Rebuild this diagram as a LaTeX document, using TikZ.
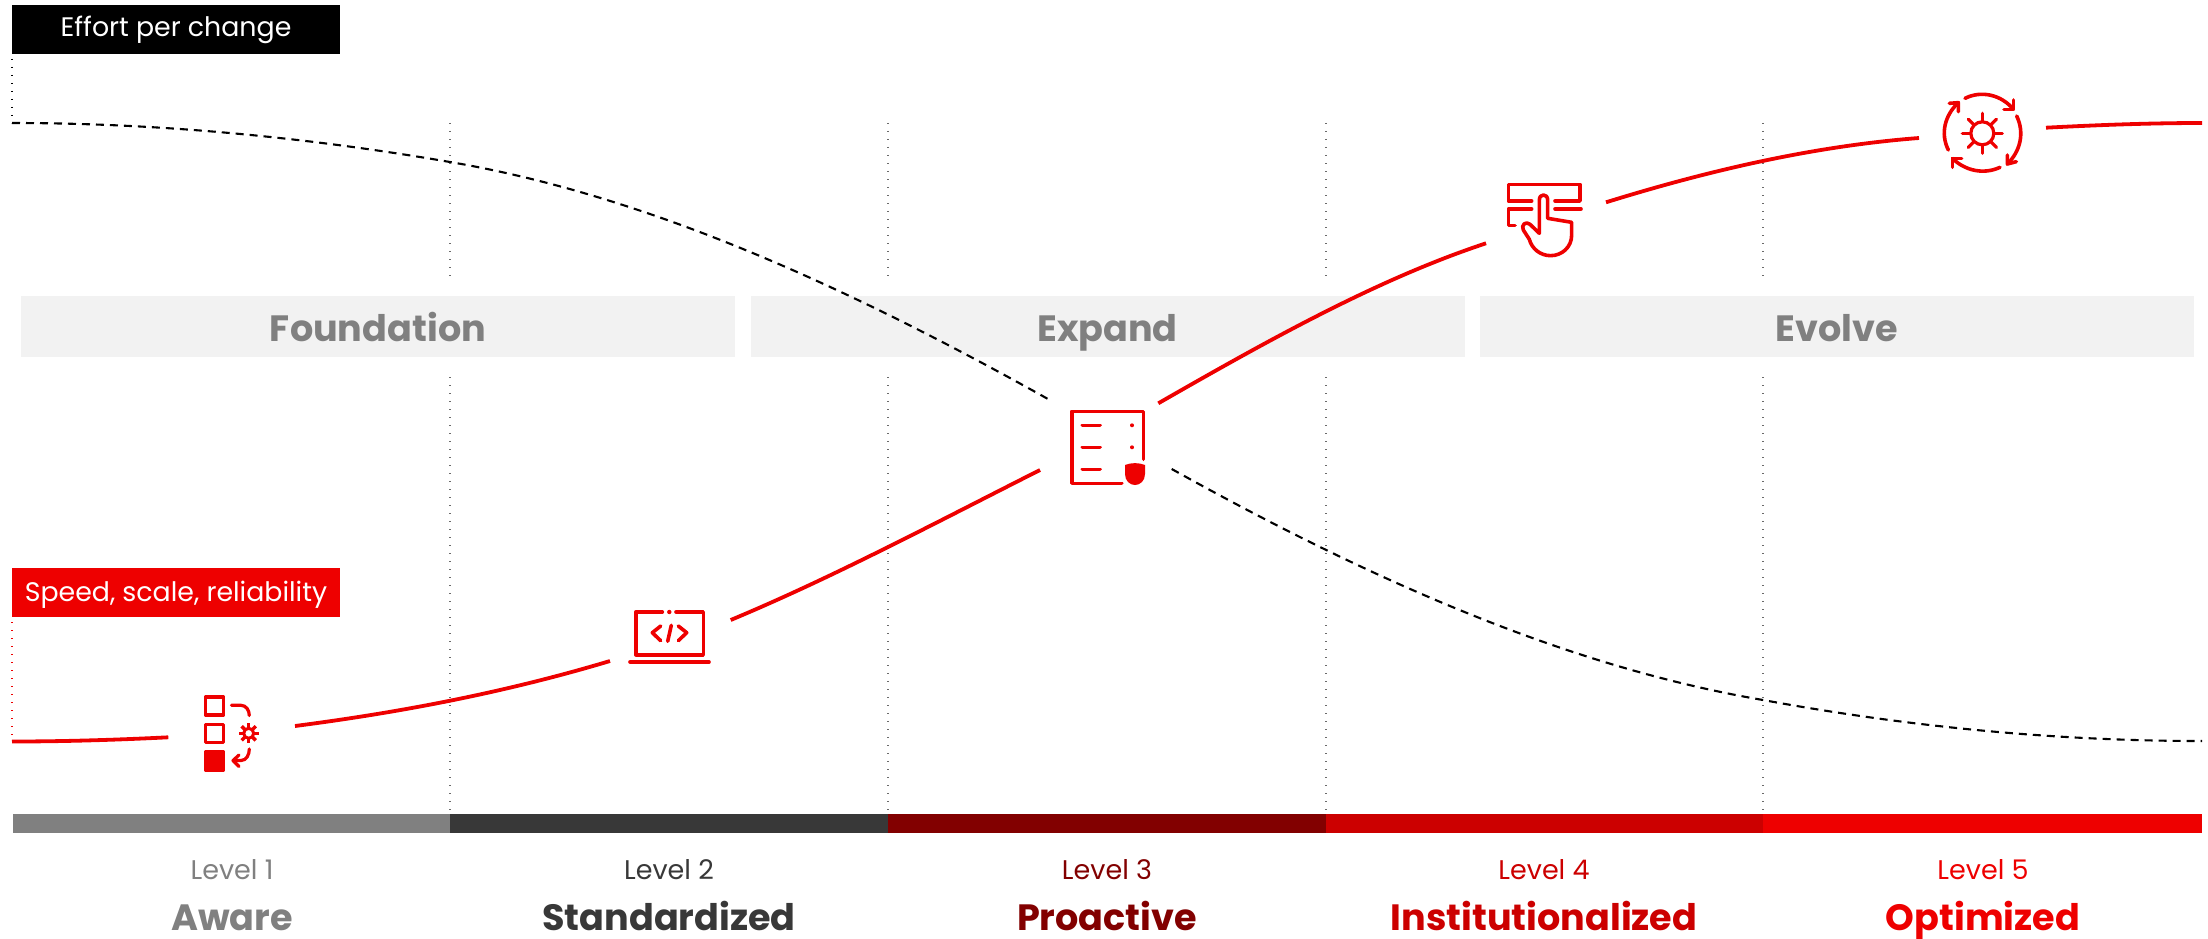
\documentclass[tikz,border=0pt]{standalone}
\usepackage{fontspec}
\setmainfont{Poppins}
\definecolor{rd}{HTML}{EE0000}
\definecolor{rdb}{HTML}{CC0000}
\definecolor{mar}{HTML}{820000}
\definecolor{drk}{HTML}{383838}
\definecolor{gry}{HTML}{808080}
\definecolor{band}{HTML}{F2F2F2}
\definecolor{vline}{HTML}{6A6A6A}
\tikzset{
 vdot/.style={vline,line width=1.3pt,dash pattern=on 1.3pt off 6.7pt},
 rcurve/.style={rd,line width=3.8pt},
 bcurve/.style={black,line width=2.1pt,dash pattern=on 8pt off 6pt},
 ico/.style={rd,line width=3.6pt,line cap=round,line join=round},
 icothin/.style={ico,line width=3.2pt},
 tag/.style={anchor=center,inner sep=0pt,minimum width=328pt,minimum height=49pt,text=white,text depth=0pt,font=\fontsize{26.8pt}{30pt}\selectfont},
 bandbox/.style={fill=band,draw=none,inner sep=0pt,minimum width=714pt,minimum height=61pt,text=gry,text height=29pt,text depth=0pt,font=\fontsize{36.6pt}{40pt}\selectfont\bfseries},
 lvl/.style={inner sep=0pt,anchor=base,font=\fontsize{27pt}{30pt}\selectfont},
 ttl/.style={inner sep=0pt,anchor=base,font=\fontsize{36.6pt}{40pt}\selectfont\bfseries},
 barseg/.style={draw=none,inner sep=0pt,minimum height=19pt},
}
\begin{document}
\begin{tikzpicture}[x=1pt,y=-1pt]
\useasboundingbox (0,0) rectangle (2208,939);
% vertical dotted guides
\foreach \x in {450,888,1326,1763}{
  \draw[vdot] (\x,123) -- (\x,276);
  \draw[vdot] (\x,377) -- (\x,814);
}
\draw[black,line width=1.3pt,dash pattern=on 1.3pt off 6.7pt] (12,59) -- (12,123);
\draw[rd,line width=1.3pt,dash pattern=on 1.3pt off 6.7pt] (12,622) -- (12,741);
% bands
\node[bandbox] (foundation) at (378,326.5) {Foundation};
\node[bandbox] (expand) at (1107.5,326.5) {Expand};
\node[bandbox] (evolve) at (1836.5,326.5) {Evolve};
% tags
\node[tag,fill=black,text height=15pt] (effort) at (176,29.5) {Effort per change};
\node[tag,fill=rd,text height=18pt] (speed) at (176,592.8) {Speed, scale, reliability};
% curves
\coordinate (r0) at (12,741.5);
\coordinate (r1) at (168.3,737.3);
\coordinate (r2) at (295,726);
\coordinate (r3) at (610,661);
\coordinate (r4) at (730.7,620);
\coordinate (r5) at (1040,470);
\coordinate (r6) at (1158.3,403.3);
\coordinate (r7) at (1486,243.3);
\coordinate (r8) at (1606,202.3);
\coordinate (r9) at (1919,138);
\coordinate (r10) at (2046,127.7);
\coordinate (r11) at (2202,123);
\draw[rcurve] (r0) .. controls (64,741.5) and (116,739.9) .. (r1);
\draw[rcurve] (r2) .. controls (400,712.4) and (505,692.5) .. (r3);
\draw[rcurve] (r4) .. controls (833.7,577) and (937,522) .. (r5);
\draw[rcurve] (r6) .. controls (1267,341) and (1377,279.3) .. (r7);
\draw[rcurve] (r8) .. controls (1710,170) and (1815,146) .. (r9);
\draw[rcurve] (r10) .. controls (2098,125) and (2150,123) .. (r11);
\coordinate (k0) at (12,123);
\coordinate (km1) at (450,162);
\coordinate (k1) at (1051,400.7);
\coordinate (k2) at (1171.7,469);
\coordinate (km2) at (1763,700);
\coordinate (k3) at (2202,741);
\draw[bcurve] (k0) .. controls (158,123) and (304,137) .. (km1) .. controls (650,196) and (851,288.7) .. (k1);
\draw[bcurve] (k2) .. controls (1369,579) and (1566,666.5) .. (km2) .. controls (1910,727) and (2056,741) .. (k3);
% level bar
\node[barseg,fill=gry,minimum width=437pt] (b1) at (231.5,823.5) {};
\node[barseg,fill=drk,minimum width=438pt] (b2) at (669,823.5) {};
\node[barseg,fill=mar,minimum width=438pt] (b3) at (1107,823.5) {};
\node[barseg,fill=rdb,minimum width=437pt] (b4) at (1544.5,823.5) {};
\node[barseg,fill=rd,minimum width=439pt] (b5) at (1982.5,823.5) {};
% level labels
\node[lvl,text=gry] (l1) at (232,879) {Level 1};
\node[lvl,text=drk] (l2) at (669,879) {Level 2};
\node[lvl,text=mar] (l3) at (1107,879) {Level 3};
\node[lvl,text=rdb] (l4) at (1544,879) {Level 4};
\node[lvl,text=rd] (l5) at (1983,879) {Level 5};
\node[ttl,text=gry] (t1) at (232,930) {Aware};
\node[ttl,text=drk] (t2) at (669,930) {Standardized};
\node[ttl,text=mar] (t3) at (1107,930) {Proactive};
\node[ttl,text=rdb] (t4) at (1544,930) {Institutionalized};
\node[ttl,text=rd] (t5) at (1983,930) {Optimized};
% icon 1
\draw[icothin] (205.5,697) rectangle (223.5,715);
\draw[icothin] (205.5,724.5) rectangle (223.5,742.5);
\draw[icothin,fill=rd] (205.5,752) rectangle (223.5,770);
\draw[icothin] (231.5,705.3) -- (241,705.3) to[out=0,in=90] (249.3,715.5);
\draw[icothin] (249.3,749) to[out=-90,in=0] (241,760.5) -- (233.5,760.5);
\draw[icothin] (239,755) -- (233,760.5) -- (239,766.5);
\draw[rd,line width=3pt] (248.7,733.3) circle (5pt);
\foreach \a in {0,45,...,315}{
  \draw[rd,line width=3.4pt] (248.7,733.3) ++(\a:5.5pt) -- ++(\a:4.5pt);
}
% icon 2
\draw[ico] (662.3,612) -- (635.7,612) -- (635.7,654.7) -- (703.3,654.7) -- (703.3,612) -- (676,612);
\fill[rd] (669.3,612) circle (2.2pt);
\draw[ico] (630,662) -- (709,662);
\draw[ico] (660.7,626) -- (652.3,632.7) -- (660.7,640.7);
\draw[ico] (671.3,625.3) -- (667.7,641.3);
\draw[ico] (678.3,626) -- (686.7,632.7) -- (678.3,640.7);
% icon 3
\draw[ico] (1121.7,483.3) -- (1071.7,483.3) -- (1071.7,411.3) -- (1143.3,411.3) -- (1143.3,459.3);
\foreach \y in {425.3,447.3,469.3}{ \draw[ico] (1082.3,\y) -- (1100,\y); }
\fill[rd] (1132,425.3) circle (2pt);
\fill[rd] (1132,447.3) circle (2pt);
\fill[rd] (1125,465) .. controls (1131,462.5) and (1139,462.5) .. (1145,465) -- (1145,474) .. controls (1145,481) and (1140,485) .. (1135,485) .. controls (1130,485) and (1125,481) .. (1125,474) -- cycle;
% icon 4
\begin{scope}[shift={(1480,160)},x=.3333pt,y=-.3333pt]
\draw[ico] (155,123) -- (85,123) -- (85,73) -- (300,73) -- (300,123) -- (225,123);
\draw[ico] (155,147) -- (85,147) -- (85,197) -- (105,197);
\draw[ico] (225,147) -- (303,147);
\draw[ico] (178,220) -- (178,120) .. controls (178,100) and (203,100) .. (203,120) -- (203,175) -- (275,187) -- (275,225) .. controls (275,262) and (245,287) .. (212,287) .. controls (180,287) and (155,265) .. (148,238) -- (130,210) .. controls (122,195) and (138,182) .. (150,193) -- cycle;
\end{scope}
% icon 5
\coordinate (c5) at (1982.3,133.3);
\draw[rd,line width=3.2pt] (c5) circle (11.5pt);
\foreach \a in {0,45,...,315}{
  \draw[rd,line width=3.2pt,line cap=round] (c5) ++(\a:12pt) -- ++(\a:8pt);
}
\begin{scope}[shift={(1920,80)},x=.3333pt,y=-.3333pt]
\draw[ico] (135,55) .. controls (185,30) and (245,45) .. (280,88);
\draw[ico] (280,60) -- (280,88) -- (252,88);
\draw[ico] (290,108) .. controls (315,160) and (300,215) .. (262,252);
\draw[ico] (262,225) -- (262,252) -- (289,245);
\draw[ico] (240,262) .. controls (190,285) and (135,272) .. (97,235);
\draw[ico] (125,235) -- (97,235) -- (97,262);
\draw[ico] (85,210) .. controls (60,160) and (75,105) .. (115,68);
\draw[ico] (88,70) -- (115,68) -- (115,95);
\end{scope}
\end{tikzpicture}
\end{document}
